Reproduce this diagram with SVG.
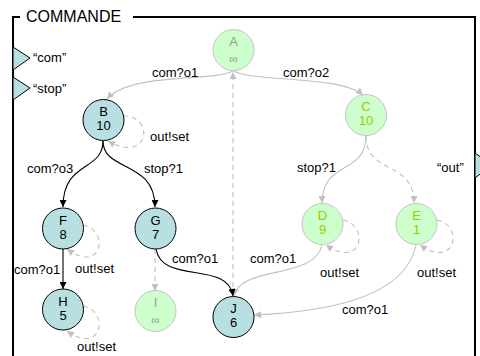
<svg xmlns="http://www.w3.org/2000/svg" width="480" height="356" viewBox="0 0 480 356">
<style>
text{font-family:"Liberation Sans",Arial,sans-serif;font-size:13px;fill:#000}
.nt{text-anchor:middle}
.act circle{fill:#b8e0e2;stroke:#000;stroke-width:1}
.idle circle{fill:#ccffcc;stroke:#c4c4c4;stroke-width:1}
.idle text{fill:#99cc00}
.grey text{fill:#999}
.e{fill:none;stroke-width:1.1}
.g{stroke:#c0c0c0;marker-end:url(#ag)}
.k{stroke:#000;marker-end:url(#ak)}
.d{stroke-dasharray:5,4}
.port{fill:#b8e0e2;stroke:#000;stroke-width:1}
</style>
<defs>
<marker id="ag" viewBox="0 0 10 10" refX="10" refY="5" markerWidth="8" markerHeight="7" markerUnits="userSpaceOnUse" orient="auto"><path d="M0,0 L10,5 L0,10 z" fill="#c0c0c0"/></marker>
<marker id="ak" viewBox="0 0 10 10" refX="10" refY="5" markerWidth="8" markerHeight="7" markerUnits="userSpaceOnUse" orient="auto"><path d="M0,0 L10,5 L0,10 z" fill="#000"/></marker>
</defs>
<rect width="480" height="356" fill="#fff"/>
<g id="frame">
<path d="M13 356 L13 17 L20 17 M133 17 L475 17 L475 356" fill="none" stroke="#000" stroke-width="2"/>
<text x="26" y="21.5" style="font-size:16px">COMMANDE</text>
<polygon class="port" points="13,47 30,58 13,70"/>
<polygon class="port" points="13,77 30,88 13,100"/>
<polygon class="port" points="475,153 492,165 475,178"/>
<text x="33" y="62">“com”</text>
<text x="33" y="93">“stop”</text>
<text x="437" y="172">“out”</text>
</g>
<g id="connectors">
<path class="e g" d="M233 71 C215 82,130 72,107 99"/>
<path class="e g" d="M234 71 C250 82,340 75,363 95"/>
<path class="e g d" d="M233 296 L233 72"/>
<path class="e g d" d="M123 116 C155 115,150 165,108 141"/>
<path class="e k" d="M103 141 C103 172,63 160,63 207"/>
<path class="e k" d="M103 141 C103 172,155 160,155 207"/>
<path class="e g" d="M366 136 C366 175,322 160,322 203"/>
<path class="e g d" d="M366 136 C366 175,414 160,414 203"/>
<path class="e g d" d="M343 220 C370 225,362 270,326 245"/>
<path class="e g d" d="M437 220 C464 225,456 270,420 245"/>
<path class="e g d" d="M83 225 C110 230,102 275,67 249"/>
<path class="e g d" d="M83 306 C110 311,102 356,67 331"/>
<path class="e k" d="M63 249 L63 289"/>
<path class="e g d" d="M155 249 L155 291"/>
<path class="e g" d="M322 245 C315 280,240 265,234 296"/>
<path class="e k" d="M156 249 C162 285,228 260,233 296"/>
<path class="e g" d="M416 245 C405 300,320 312,254 315"/>
<text x="152" y="77">com?o1</text>
<text x="283" y="77">com?o2</text>
<text x="150" y="141">out!set</text>
<text x="27" y="173">com?o3</text>
<text x="144" y="173">stop?1</text>
<text x="297" y="172">stop?1</text>
<text x="320" y="277">out!set</text>
<text x="417" y="277">out!set</text>
<text x="75" y="273">out!set</text>
<text x="14" y="274">com?o1</text>
<text x="77" y="351">out!set</text>
<text x="172" y="263">com?o1</text>
<text x="250" y="263">com?o1</text>
<text x="342" y="314">com?o1</text>
</g>
<g id="A" class="idle grey"><circle cx="233.5" cy="50" r="20.5"/><text class="nt" x="233.5" y="46">A</text><text class="nt" x="233.5" y="63" style="font-size:12px">∞</text></g>
<g id="B" class="act"><circle cx="103.5" cy="120" r="20.5"/><text class="nt" x="103.5" y="116">B</text><text class="nt" x="103.5" y="130">10</text></g>
<g id="C" class="idle"><circle cx="366" cy="115" r="20.5"/><text class="nt" x="366" y="111">C</text><text class="nt" x="366" y="125">10</text></g>
<g id="D" class="idle"><circle cx="322.5" cy="224" r="20.5"/><text class="nt" x="322.5" y="220">D</text><text class="nt" x="322.5" y="234">9</text></g>
<g id="E" class="idle"><circle cx="416.5" cy="224" r="20.5"/><text class="nt" x="416.5" y="220">E</text><text class="nt" x="416.5" y="234">1</text></g>
<g id="F" class="act"><circle cx="63" cy="228.5" r="20.5"/><text class="nt" x="63" y="224.5">F</text><text class="nt" x="63" y="238.5">8</text></g>
<g id="G" class="act"><circle cx="155.5" cy="228.5" r="20.5"/><text class="nt" x="155.5" y="224.5">G</text><text class="nt" x="155.5" y="238.5">7</text></g>
<g id="H" class="act"><circle cx="63" cy="309.5" r="20.5"/><text class="nt" x="63" y="305.5">H</text><text class="nt" x="63" y="319.5">5</text></g>
<g id="I" class="idle grey"><circle cx="155.5" cy="311" r="20.5"/><text class="nt" x="155.5" y="307">I</text><text class="nt" x="155.5" y="324" style="font-size:12px">∞</text></g>
<g id="J" class="act"><circle cx="233.5" cy="317" r="20.5"/><text class="nt" x="233.5" y="313">J</text><text class="nt" x="233.5" y="327">6</text></g>
</svg>
